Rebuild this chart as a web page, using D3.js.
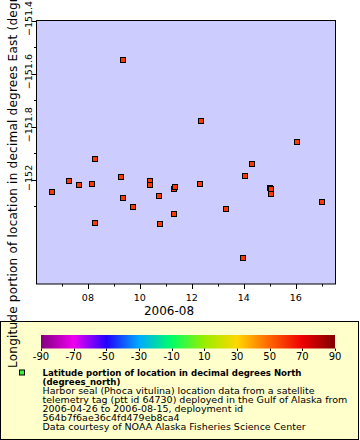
<!DOCTYPE html>
<html><head><meta charset="utf-8">
<script src="https://cdn.jsdelivr.net/npm/d3@7"></script>
<style>html,body{margin:0;padding:0;background:#fff;}svg{display:block;font-family:"DejaVu Sans",sans-serif;}</style>
</head><body>
<svg id="c" width="360" height="440"></svg>
<script>
const times = ["2006-08-06T14:40","2006-08-07T06:07","2006-08-07T15:40","2006-08-08T03:26","2006-08-08T06:29","2006-08-08T06:40","2006-08-09T06:17","2006-08-09T08:24","2006-08-09T08:28","2006-08-09T17:40","2006-08-10T09:25","2006-08-10T09:28","2006-08-10T17:44","2006-08-10T18:40","2006-08-11T07:20","2006-08-11T07:38","2006-08-11T08:33","2006-08-12T07:25","2006-08-12T08:21","2006-08-13T07:46","2006-08-13T23:14","2006-08-14T01:22","2006-08-14T07:35","2006-08-15T00:32","2006-08-15T01:10","2006-08-15T01:12","2006-08-16T01:15","2006-08-17T00:23"];
const lons = [-152.045,-152.004,-152.018,-152.014,-151.921,-152.161,-151.991,-152.070,-151.548,-152.101,-152.004,-152.019,-152.060,-152.165,-152.033,-152.127,-152.026,-152.014,-151.777,-152.109,-152.296,-151.984,-151.940,-152.030,-152.034,-152.055,-151.857,-152.082];
const markerLatitude = 58.3;
const yMajorTicks = [-151.4,-151.6,-151.8,-152];
const yMinorTicks = [-151.5,-151.7,-151.9,-152.1];
const xAxisTitle = "2006-08";
const yAxisTitle = "Longitude portion of location in decimal degrees East (degrees_east)";
const colorStops = [-90,-70,-50,-30,-10,10,30,50,70,90];
const colorValues = ["#800080","#f000f0","#2200ff","#00aaff","#00ff66","#99ee00","#ffd700","#ff6400","#ee0000","#800000"];
const colorTickLabels = ["-90","-70","-50","-30","-10","10","30","50","70","90"];
const legendTitle = ["Latitude portion of location in decimal degrees North","(degrees_north)"];
const legendLines = ["Harbor seal (Phoca vitulina) location data from a satellite","telemetry tag (ptt id 64730) deployed in the Gulf of Alaska from","2006-04-26 to 2006-08-15, deployment id","564b7f6ae36c4fd479eb8ca4","Data courtesy of NOAA Alaska Fisheries Science Center"];

const parse = d3.utcParse("%Y-%m-%dT%H:%M");
const data = times.map((t,i)=>({t:parse(t), lon:lons[i]}));
const svg = d3.select("#c");

const L=36.5, R=335.5, T=20.5, B=284;
const x = d3.scaleUtc().domain([parse("2006-08-06T00:30"), parse("2006-08-17T12:42")]).range([L, R]);
const y = d3.scaleLinear().domain([-152.392,-151.4]).range([B, T]);
const color = d3.scaleLinear().domain(colorStops).range(colorValues);

// legend box
svg.append("rect").attr("x",0.5).attr("y",321.5).attr("width",358).attr("height",118)
  .attr("fill","#ffffcc").attr("stroke","#000").attr("stroke-width",1);

// plot area
svg.append("rect").attr("x",L).attr("y",T).attr("width",R-L).attr("height",B-T)
  .attr("fill","#ccccff").attr("stroke","#000").attr("stroke-width",1);

// x axis ticks
const days = d3.utcDay.range(parse("2006-08-07T00:00"), parse("2006-08-18T00:00"));
const major = days.filter(d=>d.getUTCDate()%2===0);
const minor = days.filter(d=>d.getUTCDate()%2===1);
const xa = svg.append("g");
xa.selectAll(".mj").data(major).join("line").attr("x1",d=>Math.round(x(d))+0.5).attr("x2",d=>Math.round(x(d))+0.5)
  .attr("y1",B).attr("y2",B+5).attr("stroke","#000");
xa.selectAll(".mn").data(minor).join("line").attr("x1",d=>Math.round(x(d))+0.5).attr("x2",d=>Math.round(x(d))+0.5)
  .attr("y1",B).attr("y2",B+2.5).attr("stroke","#000");
const fmt = d3.utcFormat("%d");
xa.selectAll("text").data(major).join("text").attr("x",d=>x(d)).attr("y",301)
  .attr("text-anchor","middle").attr("font-size",9.5).text(fmt);
svg.append("text").attr("x",169).attr("y",314.5).attr("text-anchor","middle").attr("font-size",12).text(xAxisTitle);

// y axis ticks
const ya = svg.append("g");
ya.selectAll(".mj").data(yMajorTicks).join("line").attr("x1",L-5).attr("x2",L)
  .attr("y1",d=>Math.round(y(d))+0.5).attr("y2",d=>Math.round(y(d))+0.5).attr("stroke","#000");
ya.selectAll(".mn").data(yMinorTicks).join("line").attr("x1",L-2.5).attr("x2",L)
  .attr("y1",d=>Math.round(y(d))+0.5).attr("y2",d=>Math.round(y(d))+0.5).attr("stroke","#000");
ya.selectAll("text").data(yMajorTicks).join("text")
  .attr("transform",d=>`translate(32,${y(d)-2}) rotate(-90)`)
  .attr("text-anchor","middle").attr("font-size",9.5).text(d=>d3.format("")(d));

// points
svg.append("g").selectAll("rect").data(data).join("rect")
  .attr("x",d=>Math.round(x(d.t))-2.5).attr("y",d=>Math.round(y(d.lon))-2.5)
  .attr("width",5).attr("height",5)
  .attr("fill",color(markerLatitude)).attr("stroke","#000").attr("stroke-width",1);

// colorbar
const cbL=41, cbR=335, cbT=335, cbB=348.5;
const cx = d3.scaleLinear().domain([-90,90]).range([cbL,cbR]);
const grad = svg.append("defs").append("linearGradient").attr("id","cb").attr("x1","0%").attr("x2","100%");
grad.selectAll("stop").data(colorStops).join("stop")
  .attr("offset",d=>((d+90)/180*100)+"%").attr("stop-color",d=>color(d));
svg.append("rect").attr("x",cbL).attr("y",cbT).attr("width",cbR-cbL).attr("height",cbB-cbT).attr("fill","url(#cb)");
svg.append("g").selectAll("line").data(colorStops).join("line")
  .attr("x1",d=>Math.round(cx(d))+0.5).attr("x2",d=>Math.round(cx(d))+0.5)
  .attr("y1",cbB).attr("y2",cbB+2.5).attr("stroke","#000");
svg.append("g").selectAll("text").data(colorStops).join("text")
  .attr("x",d=>cx(d)).attr("y",359.5).attr("text-anchor","middle").attr("font-size",10)
  .text((d,i)=>colorTickLabels[i]);

// legend marker & text
svg.append("rect").attr("x",19.5).attr("y",370).attr("width",5).attr("height",5)
  .attr("fill","#3cf03c").attr("stroke","#000");
const lt = svg.append("g");
legendTitle.forEach((s,i)=>{
  const t = lt.append("text").attr("x",42.5).attr("y",375.5+9*i).attr("font-size",9.3).attr("font-weight","bold").text(s);
  const w = t.node().getComputedTextLength();
  t.attr("textLength", w*0.925).attr("lengthAdjust","spacingAndGlyphs");
});
legendLines.forEach((s,i)=>lt.append("text").attr("x",42.5).attr("y",393.5+9*i).attr("font-size",9.5).text(s));

// y axis title
const yt = svg.append("text").attr("transform",`translate(16.5,153) rotate(-90)`)
  .attr("text-anchor","middle").attr("font-size",12).text(yAxisTitle);
yt.attr("textLength",430).attr("lengthAdjust","spacing");
</script>
</body></html>
